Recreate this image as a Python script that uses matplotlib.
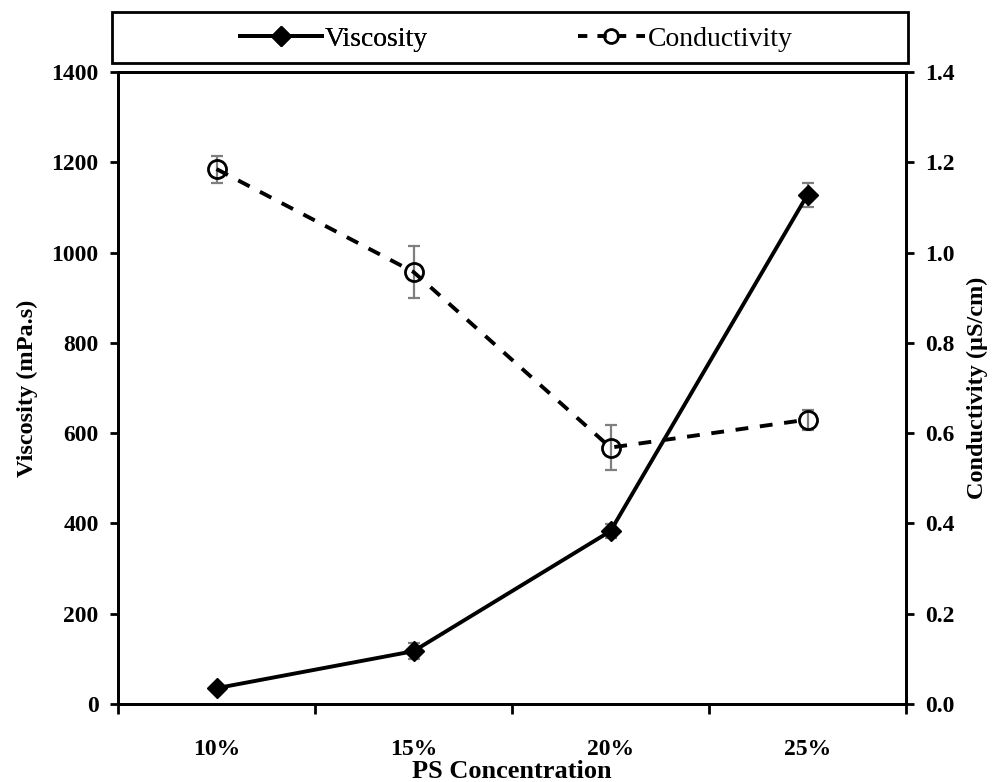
import matplotlib
matplotlib.use("Agg")
import matplotlib.pyplot as plt
from matplotlib.patches import Rectangle
from matplotlib.lines import Line2D

plt.rcParams['font.family'] = ['Liberation Serif', 'DejaVu Serif']

# Data
concentrations = ["10%", "15%", "20%", "25%"]
viscosity = [35, 117, 383, 1128]
viscosity_err = [6, 18, 15, 27]
conductivity = [1.185, 0.957, 0.568, 0.630]
conductivity_err = [0.030, 0.058, 0.050, 0.022]

W, H = 996, 782
fig = plt.figure(figsize=(W / 100, H / 100), dpi=100)

left, right, top, bottom = 118, 906, 72, 704
ax = fig.add_axes([left / W, 1 - bottom / H, (right - left) / W, (bottom - top) / H])
ax2 = ax.twinx()

x = list(range(len(concentrations)))
err_color = "#7f7f7f"

# Viscosity (left axis)
ax.errorbar(x, viscosity, yerr=viscosity_err, fmt="none", ecolor=err_color,
            elinewidth=1.6, capsize=4.5, capthick=1.6, zorder=2)
ax.plot(x, viscosity, color="black", lw=2.8, marker="D", ms=10.5,
        mfc="black", mec="black", zorder=3)

# Conductivity (right axis)
ax2.errorbar(x, conductivity, yerr=conductivity_err, fmt="none", ecolor=err_color,
             elinewidth=1.6, capsize=4.5, capthick=1.6, zorder=2)
ax2.plot(x, conductivity, color="black", lw=2.8, dashes=(3.3, 3.0),
         marker="o", ms=13, mfc="none", mec="black", mew=2.0, zorder=3)

ax.set_xlim(-0.5, len(concentrations) - 0.5)
ax.set_ylim(0, 1400)
ax2.set_ylim(0, 1.4)

ax.set_yticks(range(0, 1401, 200))
ax2.set_yticks([i * 0.2 for i in range(8)])
ax2.set_yticklabels([f"{i * 0.2:.1f}" for i in range(8)])

# Category boundaries carry the tick marks, centres carry the labels
ax.set_xticks([i - 0.5 for i in range(len(concentrations) + 1)])
ax.set_xticklabels([])
ax.set_xticks(x, minor=True)
ax.set_xticklabels(concentrations, minor=True)
ax.tick_params(axis="x", which="major", direction="out", length=7, width=2)
ax.tick_params(axis="x", which="minor", length=0, pad=25)

ax.tick_params(axis="y", direction="out", length=6, width=2, pad=8)
ax2.tick_params(axis="y", direction="out", length=6, width=2, pad=8)

for a in (ax, ax2):
    for lab in a.get_xticklabels(minor=True) + a.get_yticklabels():
        lab.set_fontsize(17)
        lab.set_fontweight("bold")
    for s in a.spines.values():
        s.set_linewidth(2)

ax.set_xlabel("PS Concentration", fontsize=19, fontweight="bold")
ax.xaxis.set_label_coords(0.5, -0.089)
ax.set_ylabel("Viscosity (mPa.s)", fontsize=17.5, fontweight="bold")
ax.yaxis.set_label_coords(-0.101, 0.5)
ax2.set_ylabel("Conductivity (\u00b5S/cm)", fontsize=17.5, fontweight="bold")
ax2.yaxis.set_label_coords(1.077, 0.5)

# Legend box above the plot
bx0, bx1, by0, by1 = 112, 908, 12, 63
fig.patches.append(Rectangle((bx0 / W, 1 - by1 / H), (bx1 - bx0) / W, (by1 - by0) / H,
                             transform=fig.transFigure, fill=False, ec="black", lw=2))
ymid = 1 - 39 / H
h_visc = Line2D([], [], color="black", lw=2.8, marker="D", ms=10, mfc="black")
h_cond = Line2D([], [], color="black", lw=2.8, dashes=(2.4, 2.6), marker="o", ms=10,
                mfc="none", mew=2.0)
common = dict(loc="center left", frameon=False, fontsize=20, borderpad=0,
              borderaxespad=0, handletextpad=0.1)
leg1 = fig.legend([h_visc], ["Viscosity"], bbox_to_anchor=(240 / W, ymid),
                  handlelength=2.95, **common)
fig.add_artist(leg1)
fig.legend([h_cond], ["Conductivity"], bbox_to_anchor=(578 / W, ymid),
           handlelength=2.4, **common)

fig.savefig("out.png", dpi=100)
